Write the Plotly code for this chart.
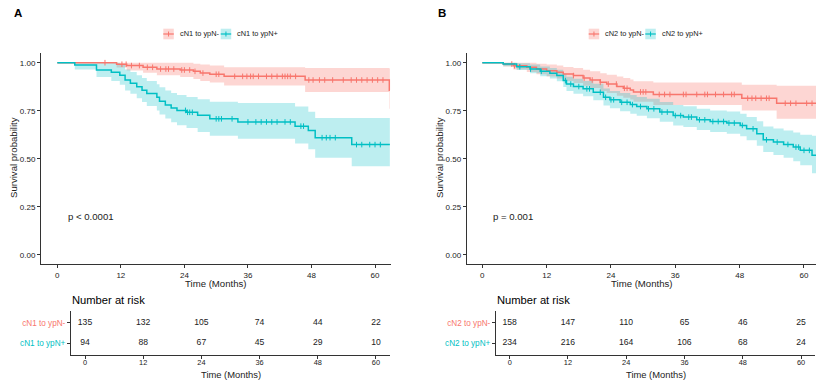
import plotly.graph_objects as go

RED = "#F8766D"
TEAL = "#00BFC4"
RED_FILL = "rgba(248,118,109,0.3)"
TEAL_FILL = "rgba(0,191,196,0.26)"
FONT = "Liberation Sans, Arial, sans-serif"
TXT = "#222222"
AX = "#333333"

month_ticks = [0, 12, 24, 36, 48, 60]
surv_ticks = [0, 0.25, 0.5, 0.75, 1.0]

# ---------------- Panel A: cN1 ----------------
a_neg_label = "cN1 to ypN-"
a_pos_label = "cN1 to ypN+"
a_neg_time = [0, 11.2, 13.1, 16.2, 18.8, 23.2, 25.7, 27.0, 28.8, 31.5, 46.8, 62.7]
a_neg_surv = [1, 0.992, 0.985, 0.976, 0.967, 0.962, 0.955, 0.946, 0.940, 0.929, 0.910, 0.857]
a_neg_low = [1, 0.975, 0.960, 0.948, 0.935, 0.925, 0.915, 0.905, 0.897, 0.882, 0.848, 0.760]
a_neg_up = [1, 1, 1, 1, 1, 1, 0.995, 0.99, 0.985, 0.976, 0.972, 0.970]
a_neg_end = 62.8
a_neg_cens = [9, 12.2, 13, 14, 15.5, 17, 18, 19.5, 20.5, 21, 22, 23.5, 24, 25, 26, 27.5, 30, 30.5,
              33.5, 35, 35.8, 36.5, 37, 38, 39.5, 40.5, 41.5, 42.5, 43, 43.5, 44, 45, 47.5, 48.3,
              49.5, 50.5, 52, 54, 55.5, 56.5, 57.5, 58.5, 59.5, 60.5, 61.5]

a_pos_time = [0, 3.3, 7.4, 10.2, 11.8, 12.8, 13.8, 15.0, 16.0, 16.9, 18.8, 19.3, 20.4, 21.5, 22.6,
              24.4, 26.5, 28.8, 34.1, 44.9, 47.4, 48.7, 55.6]
a_pos_surv = [1, 0.988, 0.962, 0.950, 0.935, 0.910, 0.893, 0.875, 0.857, 0.840, 0.820, 0.800, 0.780,
              0.765, 0.752, 0.742, 0.727, 0.708, 0.692, 0.670, 0.648, 0.610, 0.574]
a_pos_low = [1, 0.965, 0.925, 0.905, 0.885, 0.855, 0.838, 0.815, 0.795, 0.775, 0.752, 0.730, 0.710,
             0.690, 0.675, 0.660, 0.640, 0.620, 0.605, 0.580, 0.550, 0.505, 0.462]
a_pos_up = [1, 1, 1, 1, 0.99, 0.965, 0.952, 0.935, 0.920, 0.905, 0.888, 0.872, 0.856, 0.843, 0.832,
            0.822, 0.810, 0.797, 0.790, 0.772, 0.745, 0.712, 0.712]
a_pos_end = 62.8
a_pos_cens = [24.2, 24.6, 25, 25.5, 30, 30.5, 31, 33, 36, 37.5, 38.5, 39.5, 40.5, 41.5, 43, 44, 46,
              46.5, 50, 50.8, 51.5, 52.5, 56.5, 57.5, 59, 60, 61]

a_risk_neg = [135, 132, 105, 74, 44, 22]
a_risk_pos = [94, 88, 67, 45, 29, 10]
a_pval = "p < 0.0001"

# ---------------- Panel B: cN2 ----------------
b_neg_label = "cN2 to ypN-"
b_pos_label = "cN2 to ypN+"
b_neg_time = [0, 3.9, 5.8, 8.3, 10.1, 12.0, 13.9, 15.1, 17.0, 18.8, 20.1, 22.0, 23.2, 25.1, 26.3,
              27.6, 28.2, 31.9, 48.4, 54.9]
b_neg_surv = [1, 0.993, 0.984, 0.976, 0.967, 0.958, 0.950, 0.941, 0.933, 0.920, 0.910, 0.898, 0.889,
              0.876, 0.867, 0.858, 0.848, 0.835, 0.815, 0.789]
b_neg_low = [1, 0.980, 0.965, 0.952, 0.940, 0.928, 0.918, 0.905, 0.895, 0.880, 0.868, 0.853, 0.843,
             0.828, 0.818, 0.808, 0.797, 0.780, 0.752, 0.708]
b_neg_up = [1, 1, 1, 1, 0.995, 0.99, 0.985, 0.978, 0.972, 0.963, 0.955, 0.945, 0.937, 0.928, 0.920,
            0.912, 0.903, 0.897, 0.885, 0.880]
b_neg_end = 62.3
b_neg_cens = [5.5, 6, 17, 19, 20.5, 22, 23.5, 25, 26.5, 27, 29.5, 30, 30.5, 33, 34, 35, 37.5, 38, 40,
              41.5, 42, 43.5, 45, 46.5, 47, 49.5, 50.3, 51, 52, 53, 53.5, 56.5, 57.5, 58.5, 60.5, 61.5]

b_pos_time = [0, 3.9, 6.4, 8.9, 10.8, 12.6, 13.9, 15.1, 15.7, 17.0, 18.8, 20.7, 22.6, 23.8, 25.7,
              27.6, 28.8, 30.7, 33.1, 35.6, 37.5, 40.0, 42.5, 45.6, 48.1, 49.3, 51.2, 52.4, 54.3,
              56.2, 58.0, 59.3, 61.5]
b_pos_surv = [1, 0.993, 0.979, 0.967, 0.955, 0.945, 0.933, 0.907, 0.889, 0.876, 0.864, 0.846, 0.820,
              0.807, 0.794, 0.782, 0.772, 0.760, 0.743, 0.725, 0.717, 0.703, 0.694, 0.686, 0.674,
              0.656, 0.630, 0.599, 0.587, 0.575, 0.561, 0.544, 0.518]
b_pos_low = [1, 0.982, 0.962, 0.945, 0.930, 0.918, 0.903, 0.873, 0.853, 0.838, 0.825, 0.805, 0.777,
             0.763, 0.748, 0.735, 0.724, 0.711, 0.693, 0.674, 0.665, 0.650, 0.640, 0.631, 0.617,
             0.597, 0.568, 0.535, 0.520, 0.505, 0.487, 0.466, 0.425]
b_pos_up = [1, 1, 0.997, 0.990, 0.980, 0.972, 0.963, 0.942, 0.927, 0.916, 0.905, 0.890, 0.866, 0.853,
            0.842, 0.832, 0.822, 0.812, 0.796, 0.780, 0.773, 0.760, 0.752, 0.746, 0.735, 0.718,
            0.695, 0.668, 0.658, 0.648, 0.637, 0.625, 0.620]
b_pos_end = 62.3
b_pos_cens = [7, 9, 11, 15.5, 16.5, 18, 19.5, 20, 22, 23, 24, 24.5, 26, 27, 28, 29.5, 31, 32, 33.5,
              34.5, 36, 37, 38.5, 39, 40.5, 41.5, 43, 44, 45, 46, 47, 48.5, 50.5, 53, 55, 57, 58.5,
              59, 60, 61]

b_risk_neg = [158, 147, 110, 65, 46, 25]
b_risk_pos = [234, 216, 164, 106, 68, 24]
b_pval = "p = 0.001"

W, H = 825, 388
OFF = 8  # page body margin offset of the rendered figure


def px(x):
    return (x - OFF) / W


def py(y):
    return 1 - (y - OFF) / H


fig = go.Figure()


def step_at(times, surv, t):
    v = surv[0]
    for ti, si in zip(times, surv):
        if ti <= t:
            v = si
    return v


def add_band(times, low, up, end, fill, xa, ya):
    xs = times + [end]
    fig.add_trace(go.Scatter(x=xs, y=low + [low[-1]], mode="lines", line=dict(width=0, shape="hv"),
                             xaxis=xa, yaxis=ya, showlegend=False, hoverinfo="skip"))
    fig.add_trace(go.Scatter(x=xs, y=up + [up[-1]], mode="lines", line=dict(width=0, shape="hv"),
                             fill="tonexty", fillcolor=fill, xaxis=xa, yaxis=ya,
                             showlegend=False, hoverinfo="skip"))


def add_curve(times, surv, end, cens, color, xa, ya):
    fig.add_trace(go.Scatter(x=times + [end], y=surv + [surv[-1]], mode="lines",
                             line=dict(color=color, width=1.5, shape="hv"),
                             xaxis=xa, yaxis=ya, showlegend=False))
    fig.add_trace(go.Scatter(x=cens, y=[step_at(times, surv, c) for c in cens], mode="markers",
                             marker=dict(symbol="line-ns-open", size=4, color=color,
                                         line=dict(color=color, width=1)),
                             xaxis=xa, yaxis=ya, showlegend=False))


# Panel A curves
add_band(a_neg_time, a_neg_low, a_neg_up, a_neg_end, RED_FILL, "x", "y")
add_band(a_pos_time, a_pos_low, a_pos_up, a_pos_end, TEAL_FILL, "x", "y")
add_curve(a_neg_time, a_neg_surv, a_neg_end, a_neg_cens, RED, "x", "y")
add_curve(a_pos_time, a_pos_surv, a_pos_end, a_pos_cens, TEAL, "x", "y")
# Panel B curves
add_band(b_neg_time, b_neg_low, b_neg_up, b_neg_end, RED_FILL, "x2", "y2")
add_band(b_pos_time, b_pos_low, b_pos_up, b_pos_end, TEAL_FILL, "x2", "y2")
add_curve(b_neg_time, b_neg_surv, b_neg_end, b_neg_cens, RED, "x2", "y2")
add_curve(b_pos_time, b_pos_surv, b_pos_end, b_pos_cens, TEAL, "x2", "y2")

# Risk tables
for risk_neg, risk_pos, xa, ya in [(a_risk_neg, a_risk_pos, "x3", "y3"),
                                   (b_risk_neg, b_risk_pos, "x4", "y4")]:
    fig.add_trace(go.Scatter(x=month_ticks, y=[2] * len(month_ticks), mode="text",
                             text=[str(v) for v in risk_neg],
                             textfont=dict(family=FONT, size=8.6, color=TXT),
                             xaxis=xa, yaxis=ya, showlegend=False))
    fig.add_trace(go.Scatter(x=month_ticks, y=[1] * len(month_ticks), mode="text",
                             text=[str(v) for v in risk_pos],
                             textfont=dict(family=FONT, size=8.6, color=TXT),
                             xaxis=xa, yaxis=ya, showlegend=False))

common = dict(showgrid=False, zeroline=False, showline=True, linecolor=AX, linewidth=1,
              ticks="outside", ticklen=3, tickcolor=AX, mirror=False,
              tickfont=dict(family=FONT, size=8, color=TXT))

fig.update_layout(
    width=W, height=H, margin=dict(l=0, r=0, t=0, b=0),
    paper_bgcolor="white", plot_bgcolor="white", showlegend=False,
    xaxis=dict(domain=[px(41), px(390.7)], range=[-3.08, 62.96], tickvals=month_ticks,
               anchor="y", **common),
    yaxis=dict(domain=[py(264), py(52.7)], range=[-0.047, 1.052], tickvals=surv_ticks,
               tickformat=".2f", anchor="x", **common),
    xaxis2=dict(domain=[px(466.7), px(816)], range=[-2.91, 62.24], tickvals=month_ticks,
                anchor="y2", **common),
    yaxis2=dict(domain=[py(264), py(52.7)], range=[-0.047, 1.052], tickvals=surv_ticks,
                tickformat=".2f", anchor="x2", **common),
    xaxis3=dict(domain=[px(71), px(390)], range=[-2.89, 62.89], tickvals=month_ticks,
                anchor="y3", **common),
    yaxis3=dict(domain=[py(355), py(310.7)], range=[0.432, 2.583], tickvals=[1, 2],
                ticktext=[f"<span style='color:{TEAL}'>{a_pos_label}</span>",
                          f"<span style='color:{RED}'>{a_neg_label}</span>"],
                anchor="x3", **common),
    xaxis4=dict(domain=[px(496), px(815)], range=[-2.82, 62.88], tickvals=month_ticks,
                anchor="y4", **common),
    yaxis4=dict(domain=[py(355), py(310.7)], range=[0.432, 2.583], tickvals=[1, 2],
                ticktext=[f"<span style='color:{TEAL}'>{b_pos_label}</span>",
                          f"<span style='color:{RED}'>{b_neg_label}</span>"],
                anchor="x4", **common),
)
for ax in (fig.layout.xaxis3, fig.layout.xaxis4):
    ax.tickfont.size = 7.4
    ax.ticklabelstandoff = -3
fig.layout.yaxis3.tickfont.size = 8.2
fig.layout.yaxis4.tickfont.size = 8.2

ann = []


def text(x, y, s, size, xanchor="center", bold=False, angle=0, color=TXT):
    ann.append(dict(x=px(x), y=py(y), xref="paper", yref="paper", text=f"<b>{s}</b>" if bold else s,
                    showarrow=False, xanchor=xanchor, yanchor="middle", textangle=angle,
                    font=dict(family=FONT, size=size, color=color)))


# panel labels
text(17.5, 13.5, "A", 11.5, bold=True, color="black")
text(442.5, 13.5, "B", 11.5, bold=True, color="black")
# axis titles
text(215.8, 283, "Time (Months)", 9.6)
text(641.3, 283, "Time (Months)", 9.6)
text(14, 158, "Survival probability", 9.6, angle=-90)
text(440, 158, "Survival probability", 9.6, angle=-90)
text(230.5, 374, "Time (Months)", 9.4)
text(655.5, 374, "Time (Months)", 9.4)
text(70, 299.5, "Number at risk", 11.2, xanchor="left", color="black")
text(495, 299.5, "Number at risk", 11.2, xanchor="left", color="black")

# p-values (data coordinates)
ann.append(dict(x=1.6, y=0.2, xref="x", yref="y", text=a_pval, showarrow=False, xanchor="left",
                font=dict(family=FONT, size=9.6, color=TXT)))
ann.append(dict(x=1.6, y=0.2, xref="x2", yref="y2", text=b_pval, showarrow=False, xanchor="left",
                font=dict(family=FONT, size=9.6, color=TXT)))

# legends (manual keys in ggplot style)
shapes = []


def key(x0, y0, color, fill, label):
    shapes.append(dict(type="rect", xref="paper", yref="paper", x0=px(x0), x1=px(x0 + 10.5),
                       y0=py(y0 + 5.3), y1=py(y0 - 5.3), fillcolor=fill, line=dict(width=0)))
    shapes.append(dict(type="line", xref="paper", yref="paper", x0=px(x0), x1=px(x0 + 10.5),
                       y0=py(y0), y1=py(y0), line=dict(color=color, width=1.2)))
    shapes.append(dict(type="line", xref="paper", yref="paper", x0=px(x0 + 5.25), x1=px(x0 + 5.25),
                       y0=py(y0 - 2.5), y1=py(y0 + 2.5), line=dict(color=color, width=1)))
    text(x0 + 14.5, y0, label, 7.4, xanchor="left")


key(163.3, 34, RED, RED_FILL, a_neg_label)
key(220.7, 34, TEAL, TEAL_FILL, a_pos_label)
key(588.7, 34, RED, RED_FILL, b_neg_label)
key(645.3, 34, TEAL, TEAL_FILL, b_pos_label)

fig.update_layout(annotations=ann, shapes=shapes)
fig.write_html("out.html")
